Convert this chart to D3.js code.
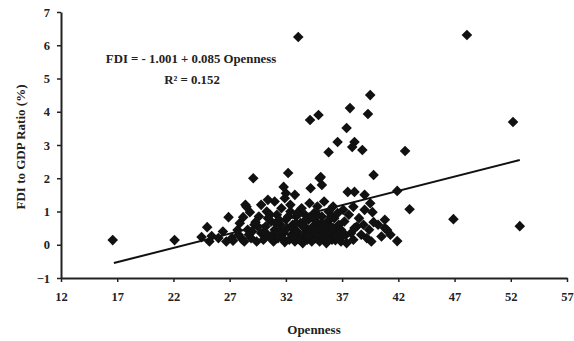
<!DOCTYPE html>
<html>
<head>
<meta charset="utf-8">
<script src="https://cdn.jsdelivr.net/npm/d3@7"></script>
<style>
  body { margin: 0; background: #fff; }
  text { font-family: "Liberation Serif", "Times New Roman", serif; font-weight: bold; fill: #222; }
</style>
</head>
<body>
<div id="chart"></div>
<script>
// openness (x) and FDI/GDP ratio (y)
const openness = [
  16.6, 22.1, 24.5, 25.0, 25.4, 25.2, 26.0, 26.4, 26.7, 26.9, 27.2, 27.7, 27.9, 28.1, 28.2, 28.4, 28.5, 28.8, 29.1, 29.3,
  27.3, 27.8, 28.3, 28.6, 28.9, 29.2, 29.4, 29.6, 29.8, 30.0, 30.2, 30.3, 30.5, 30.7, 30.9, 31.0, 31.2, 31.3, 31.5, 31.6,
  31.8, 31.9, 32.0, 32.1, 32.3, 32.4, 32.5, 32.6, 32.8, 32.9, 33.0, 33.1, 33.3, 33.4, 33.5, 33.6, 33.7, 33.8, 33.9, 34.0,
  34.1, 34.2, 34.3, 34.4, 34.5, 34.6, 34.7, 34.8, 34.9, 35.0, 35.1, 35.2, 35.3, 35.4, 35.5, 35.6, 35.7, 35.8, 35.9, 36.0,
  36.1, 36.2, 36.3, 36.5, 36.7, 36.9, 37.0, 37.2, 37.4, 37.6, 37.8, 38.0, 38.3, 38.5, 38.7, 39.0, 39.4, 39.6, 40.2, 40.5,
  40.8, 41.3, 29.8, 30.4, 31.0, 31.9, 32.2, 32.8, 31.8, 32.4, 34.2, 35.0, 35.2, 35.1, 32.0, 34.15, 34.9, 39.5, 37.7, 39.3,
  37.4, 36.6, 38.1, 37.9, 38.8, 35.8, 42.6, 41.9, 43.0, 46.9, 52.8, 33.1, 48.1, 52.2, 39.8, 37.5, 38.1, 39.0, 39.7, 39.5,
  37.1, 38.0, 40.8, 39.8, 38.9, 41.0, 38.1, 37.3, 39.2, 41.9, 36.6, 36.1, 36.6, 36.4, 30.6, 31.4, 33.2, 34.6, 36.8, 29.0,
  30.1, 30.8, 31.1, 31.7, 32.2, 32.7, 33.2, 33.6, 34.0, 34.4, 34.8, 35.3, 35.6, 36.0, 36.4, 30.4, 31.5, 32.6, 33.5, 34.3,
  35.4, 36.2, 29.5, 28.7, 33.0, 34.7, 35.8, 31.2, 32.9, 36.9
];
const fdiRatio = [
  0.14, 0.14, 0.23, 0.53, 0.26, 0.10, 0.20, 0.40, 0.10, 0.83, 0.20, 0.44, 0.65, 0.17, 0.83, 1.20, 1.14, 0.98, 2.00, 0.68,
  0.12, 0.30, 0.10, 0.45, 0.20, 0.60, 0.10, 0.85, 0.35, 0.15, 0.55, 1.00, 0.25, 0.70, 0.10, 0.45, 0.90, 0.20, 0.60, 1.10,
  0.35, 0.08, 0.75, 0.50, 0.15, 1.00, 0.30, 0.60, 0.10, 0.85, 0.40, 0.20, 0.65, 1.10, 0.05, 0.30, 0.90, 0.50, 0.15, 0.75,
  1.25, 0.35, 0.10, 0.55, 0.95, 0.20, 0.70, 1.15, 0.40, 0.10, 0.60, 0.85, 0.25, 1.30, 0.45, 0.05, 0.70, 1.00, 0.30, 0.55,
  0.15, 1.15, 0.80, 0.40, 0.60, 0.10, 0.25, 0.70, 0.05, 0.90, 0.35, 0.15, 0.55, 0.80, 0.30, 1.05, 0.45, 0.10, 0.60, 0.25,
  0.50, 0.30, 1.20, 1.35, 1.30, 1.40, 2.16, 1.50, 1.74, 1.20, 1.70, 2.00, 1.80, 2.04, 1.55, 3.75, 3.90, 4.50, 4.11, 3.93,
  3.51, 3.09, 3.09, 2.94, 2.85, 2.78, 2.82, 1.62, 1.07, 0.77, 0.56, 6.25, 6.31, 3.69, 2.10, 1.59, 1.59, 1.50, 0.98, 1.25,
  1.05, 1.14, 0.75, 0.68, 0.60, 0.44, 0.50, 0.29, 0.20, 0.11, 0.44, 0.83, 0.95, 0.14, 0.90, 0.75, 0.95, 0.45, 0.35, 0.40,
  0.40, 0.30, 0.65, 0.20, 0.85, 0.45, 0.15, 0.70, 0.25, 0.40, 0.90, 0.60, 0.35, 0.85, 0.25, 0.80, 0.45, 0.25, 0.55, 0.85,
  0.20, 0.50, 0.55, 0.30, 0.95, 0.45, 0.15, 0.25, 0.65, 0.45
];

// trend line as drawn in the picture (start/end)
const trendX = [16.7, 52.8];
const trendY = [-0.55, 2.55];

const xTicks = [12, 17, 22, 27, 32, 37, 42, 47, 52, 57];
const yTicks = [-1, 0, 1, 2, 3, 4, 5, 6, 7];

const equation = "FDI = - 1.001 + 0.085 Openness";
const rSquared = "R² = 0.152";

const W = 574, H = 341;
const margin = { top: 12, left: 61, bottom: 63, right: 7 };
const width = W - margin.left - margin.right,
      height = H - margin.top - margin.bottom;

const svg = d3.select("#chart").append("svg")
  .attr("width", W)
  .attr("height", H);

const g = svg.append("g")
  .attr("transform", `translate(${margin.left}, ${margin.top})`);

const xScale = d3.scaleLinear().domain([12, 57]).range([0, width]);
const yScale = d3.scaleLinear().domain([-1, 7]).range([height, 0]);

const xAxis = g.append("g")
  .attr("transform", `translate(0, ${height})`)
  .call(d3.axisBottom(xScale).tickValues(xTicks).tickSize(4).tickPadding(10).tickSizeOuter(0));

const yAxis = g.append("g")
  .call(d3.axisLeft(yScale).tickValues(yTicks).tickSize(4).tickPadding(7).tickSizeOuter(0));

[xAxis, yAxis].forEach(ax => {
  ax.select(".domain").attr("stroke", "#222").attr("stroke-width", 2);
  ax.selectAll(".tick line").attr("stroke", "#222").attr("stroke-width", 1.5);
  ax.selectAll(".tick text").style("font-size", "12.5px").attr("fill", "#222");
});

// points
const pts = openness.map((x, i) => ({ x: x, y: fdiRatio[i] }));
const diamond = d3.symbol(d3.symbolSquare, 56)();

g.append("g")
  .selectAll("path")
  .data(pts)
  .enter()
  .append("path")
  .attr("d", diamond)
  .attr("transform", d => `translate(${xScale(d.x)}, ${yScale(d.y)}) rotate(45)`)
  .attr("fill", "#111");

// trend line
g.append("line")
  .attr("x1", xScale(trendX[0]))
  .attr("y1", yScale(trendY[0]))
  .attr("x2", xScale(trendX[1]))
  .attr("y2", yScale(trendY[1]))
  .attr("stroke", "#111")
  .attr("stroke-width", 2);

// equation
svg.append("text")
  .attr("x", 191)
  .attr("y", 63)
  .attr("text-anchor", "middle")
  .style("font-size", "12.8px")
  .text(equation);

svg.append("text")
  .attr("x", 192)
  .attr("y", 84)
  .attr("text-anchor", "middle")
  .style("font-size", "12.8px")
  .text(rSquared);

// axis titles
svg.append("text")
  .attr("x", margin.left + width / 2)
  .attr("y", 334)
  .attr("text-anchor", "middle")
  .style("font-size", "13px")
  .text("Openness");

svg.append("text")
  .attr("transform", `translate(25, ${margin.top + height / 2 + 2}) rotate(-90)`)
  .attr("text-anchor", "middle")
  .style("font-size", "13px")
  .text("FDI to GDP Ratio (%)");
</script>
</body>
</html>
